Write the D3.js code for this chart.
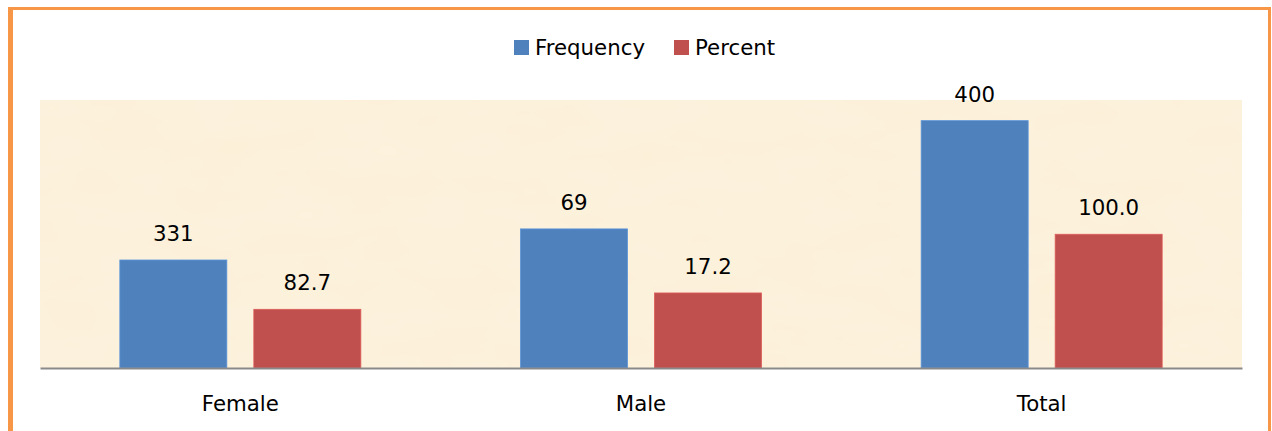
<!DOCTYPE html>
<html>
<head>
<meta charset="utf-8">
<script src="https://cdn.jsdelivr.net/npm/d3@7"></script>
<style>
  html, body { margin: 0; padding: 0; background: #fff; }
  svg { display: block; }
  text { font-family: "DejaVu Sans", sans-serif; fill: #000; }
</style>
</head>
<body>
<svg id="chart" width="1272" height="431"></svg>
<script>
// ---- data ----
const categories = ["Female", "Male", "Total"];
const seriesNames = ["Frequency", "Percent"];
const frequencyLabels = ["331", "69", "400"];
const percentLabels = ["82.7", "17.2", "100.0"];
// apparent bar heights as drawn in the source (share of plot height, %)
const frequencyBars = [40.3, 51.9, 92.3];
const percentBars = [21.9, 28.0, 49.9];
const seriesColors = ["#4F81BD", "#C0504D"];

// ---- layout ----
const svg = d3.select("#chart");
const plot = { left: 40, right: 1242, top: 100, bottom: 368 };
const FS = 21.3;

// outer orange frame
svg.append("rect").attr("x", 9.5).attr("y", 8.5).attr("width", 1260).attr("height", 440)
  .attr("fill", "#fff").attr("stroke", "#F79646").attr("stroke-width", 3);
svg.append("rect").attr("x", 8).attr("y", 7).attr("width", 5).attr("height", 430).attr("fill", "#F79646");

// parchment background
const defs = svg.append("defs");
const f = defs.append("filter").attr("id", "paper").attr("x", 0).attr("y", 0).attr("width", 1).attr("height", 1);
f.append("feTurbulence").attr("type", "fractalNoise").attr("baseFrequency", "0.012 0.03").attr("numOctaves", 3).attr("seed", 7).attr("result", "noise");
f.append("feColorMatrix").attr("in", "noise").attr("type", "matrix")
  .attr("values", "0 0 0 0 0.99  0 0 0 0 0.93  0 0 0 0 0.80  0 0 0 0.35 -0.05").attr("result", "tint");
f.append("feComposite").attr("in", "tint").attr("in2", "SourceGraphic").attr("operator", "over");

svg.append("rect")
  .attr("x", plot.left).attr("y", plot.top)
  .attr("width", plot.right - plot.left).attr("height", plot.bottom - plot.top)
  .attr("fill", "#FCF0D9").attr("filter", "url(#paper)");

const x0 = d3.scaleBand().domain(categories).range([plot.left, plot.right]).paddingInner(0).paddingOuter(0);
const groupW = 241;
const x1 = d3.scaleBand().domain(seriesNames).range([0, groupW]).paddingInner(27 / 134).paddingOuter(0);
const y = d3.scaleLinear().domain([0, 100]).range([plot.bottom, plot.top]);

const rows = categories.map((c, i) => ({
  cat: c,
  vals: [
    { s: seriesNames[0], v: frequencyBars[i], label: frequencyLabels[i], color: seriesColors[0] },
    { s: seriesNames[1], v: percentBars[i], label: percentLabels[i], color: seriesColors[1] }
  ]
}));

const g = svg.append("g").selectAll("g").data(rows).join("g")
  .attr("transform", d => `translate(${x0(d.cat) + (x0.bandwidth() - groupW) / 2},0)`);

g.selectAll("rect").data(d => d.vals).join("rect")
  .attr("x", d => x1(d.s))
  .attr("width", x1.bandwidth())
  .attr("y", d => y(d.v))
  .attr("height", d => y(0) - y(d.v))
  .attr("fill", d => d.color)
  .attr("stroke", d => d3.color(d.color).brighter(0.4))
  .attr("stroke-width", 0.8);

g.selectAll("text").data(d => d.vals).join("text")
  .attr("x", d => x1(d.s) + x1.bandwidth() / 2)
  .attr("y", d => y(d.v) - 19)
  .attr("text-anchor", "middle")
  .attr("font-size", FS)
  .text(d => d.label);

// baseline axis
const xAxis = d3.axisBottom(x0).tickSize(0).tickPadding(0);
const ax = svg.append("g").attr("transform", `translate(0,${plot.bottom})`).call(xAxis);
ax.select(".domain").attr("stroke", "#898989").attr("stroke-width", 2);
ax.selectAll("text").attr("font-size", FS).attr("dy", 0).attr("y", 43)
  .style("font-family", '"DejaVu Sans", sans-serif').attr("fill", "#000");

// legend
const legendItems = [
  { name: seriesNames[0], color: seriesColors[0], x: 514 },
  { name: seriesNames[1], color: seriesColors[1], x: 674 }
];
const lg = svg.append("g").selectAll("g").data(legendItems).join("g")
  .attr("transform", d => `translate(${d.x},40)`);
lg.append("rect").attr("width", 15).attr("height", 15).attr("fill", d => d.color);
lg.append("text").attr("x", 21).attr("y", 14.5).attr("font-size", FS).text(d => d.name);
</script>
</body>
</html>
